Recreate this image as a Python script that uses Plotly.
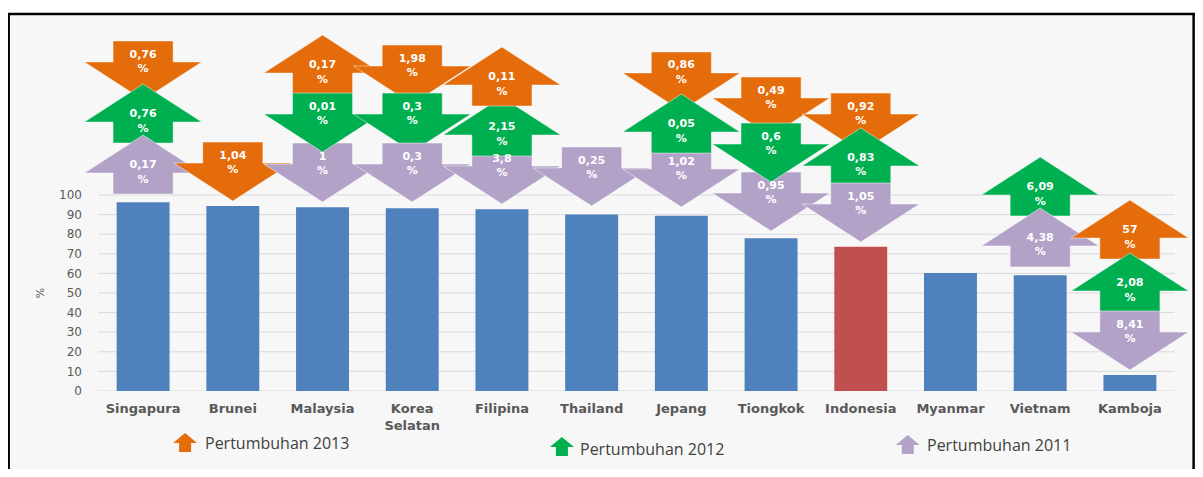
import plotly.graph_objects as go

# ---------------- data ----------------
categories = ["Singapura", "Brunei", "Malaysia", "Korea Selatan", "Filipina", "Thailand",
              "Jepang", "Tiongkok", "Indonesia", "Myanmar", "Vietnam", "Kamboja"]
tick_labels = ["Singapura", "Brunei", "Malaysia", "Korea<br>Selatan", "Filipina", "Thailand",
               "Jepang", "Tiongkok", "Indonesia", "Myanmar", "Vietnam", "Kamboja"]
values = [96.3, 94.4, 93.7, 93.2, 92.7, 90.1, 89.4, 77.9, 73.6, 60.2, 59.0, 8.2]
highlight = "Indonesia"
y_ticks = [0, 10, 20, 30, 40, 50, 60, 70, 80, 90, 100]

series_names = ["2013", "2012", "2011"]
legend_labels = ["Pertumbuhan 2013", "Pertumbuhan 2012", "Pertumbuhan 2011"]

# growth arrows (drawn in this order)
arrow_country = ["Singapura", "Singapura", "Singapura", "Brunei",
                 "Malaysia", "Malaysia", "Malaysia",
                 "Korea Selatan", "Korea Selatan", "Korea Selatan",
                 "Filipina", "Filipina", "Filipina", "Thailand",
                 "Jepang", "Jepang", "Jepang",
                 "Tiongkok", "Tiongkok", "Tiongkok",
                 "Indonesia", "Indonesia", "Indonesia",
                 "Vietnam", "Vietnam",
                 "Kamboja", "Kamboja", "Kamboja"]
arrow_series = ["2013", "2012", "2011", "2013",
                "2013", "2011", "2012",
                "2013", "2012", "2011",
                "2011", "2012", "2013", "2011",
                "2013", "2011", "2012",
                "2013", "2011", "2012",
                "2013", "2012", "2011",
                "2012", "2011",
                "2013", "2012", "2011"]
arrow_label = ["0,76", "0,76", "0,17", "1,04",
               "0,17", "1", "0,01",
               "1,98", "0,3", "0,3",
               "3,8", "2,15", "0,11", "0,25",
               "0,86", "1,02", "0,05",
               "0,49", "0,95", "0,6",
               "0,92", "0,83", "1,05",
               "6,09", "4,38",
               "57", "2,08", "8,41"]
arrow_dir = ["down", "up", "up", "down",
             "up", "down", "down",
             "down", "down", "down",
             "down", "up", "up", "down",
             "down", "down", "up",
             "down", "down", "down",
             "down", "up", "down",
             "up", "up",
             "up", "up", "down"]
# placement: top edge of each arrow, in axis units
arrow_top = [178.6, 156.6, 130.6, 127.0,
             181.6, 126.5, 152.0,
             176.5, 152.0, 126.5,
             125.5, 150.0, 175.5, 124.5,
             173.0, 124.0, 151.5,
             160.2, 111.7, 136.7,
             152.0, 134.2, 106.1,
             119.4, 93.4,
             97.4, 70.4, 40.8]

# ---------------- styles ----------------
COLORS = {"2013": "#E46C0A", "2012": "#00B050", "2011": "#B3A2C7"}
BAR_BLUE = "#4F81BD"
BAR_RED = "#C0504D"
GRID = "#D9D9D9"
SHAFT_HALF = 0.335
HEAD_HALF = 0.655
SHAFT_LEN = 10.7
HEAD_LEN = 19.4
X_RANGE = [-0.67, 11.67]

fig = go.Figure()

fig.add_trace(go.Bar(
    x=list(range(len(categories))), y=values, width=0.59,
    marker=dict(color=[BAR_RED if c == highlight else BAR_BLUE for c in categories],
                line=dict(width=0)),
    hoverinfo="skip", showlegend=False))


def arrow_xy(xc, top, direction):
    if direction == "up":
        base = top - HEAD_LEN
        bottom = top - HEAD_LEN - SHAFT_LEN
        xs = [xc, xc + HEAD_HALF, xc + SHAFT_HALF, xc + SHAFT_HALF,
              xc - SHAFT_HALF, xc - SHAFT_HALF, xc - HEAD_HALF, xc]
        ys = [top, base, base, bottom, bottom, base, base, top]
    else:
        hs = top - SHAFT_LEN
        tip = top - SHAFT_LEN - HEAD_LEN
        xs = [xc - SHAFT_HALF, xc + SHAFT_HALF, xc + SHAFT_HALF, xc + HEAD_HALF,
              xc, xc - HEAD_HALF, xc - SHAFT_HALF, xc - SHAFT_HALF]
        ys = [top, top, hs, hs, tip, hs, hs, top]
    return xs, ys


lab_x, lab_y, lab_t = [], [], []
for c, s, lab, d, top in zip(arrow_country, arrow_series, arrow_label, arrow_dir, arrow_top):
    xc = categories.index(c)
    xs, ys = arrow_xy(xc, top, d)
    fig.add_trace(go.Scatter(
        x=xs, y=ys, mode="lines", fill="toself", fillcolor=COLORS[s],
        line=dict(color="rgba(255,255,255,0.6)", width=0.8),
        hoverinfo="skip", showlegend=False))
    lab_x.append(xc)
    lab_y.append(top - 10.7 if d == "down" else top - 19.2)
    lab_t.append(lab + "<br>%")

fig.add_trace(go.Scatter(
    x=lab_x, y=lab_y, text=lab_t, mode="text", textposition="middle center",
    textfont=dict(family="DejaVu Sans", size=11, color="white", weight="bold"),
    hoverinfo="skip", showlegend=False))

# ---------------- layout (window pixel coords; page body has an 8px margin) ----------------
OFF = 8
FIG_W, FIG_H = 1203 - 2 * OFF, 477 - 2 * OFF
UNIT = 89.75
PL = 143 + (X_RANGE[0]) * UNIT          # plot-area left, window px
PR = 143 + (X_RANGE[1]) * UNIT          # plot-area right, window px
PT, PB = 20, 391                        # plot-area top / bottom, window px


def px(x):
    return (x - PL) / (PR - PL)


def py(y):
    return (PB - y) / (PB - PT)


shapes = [
    dict(type="rect", xref="paper", yref="paper", x0=px(10), x1=px(1194), y0=py(469), y1=py(15),
         fillcolor="#F7F7F7", line=dict(width=0), layer="below"),
    dict(type="line", xref="paper", yref="paper", x0=px(7), x1=px(1196), y0=py(14), y1=py(14),
         line=dict(color="black", width=2.5)),
    dict(type="line", xref="paper", yref="paper", x0=px(8.5), x1=px(8.5), y0=py(13), y1=py(477),
         line=dict(color="black", width=2.5)),
    dict(type="line", xref="paper", yref="paper", x0=px(1194), x1=px(1194), y0=py(13), y1=py(469),
         line=dict(color="black", width=2.5)),
]
for v in y_ticks:
    shapes.append(dict(type="line", xref="x", yref="y", x0=-0.5, x1=len(categories) - 0.5,
                       y0=v, y1=v, line=dict(color=GRID, width=1), layer="below"))

legend_icon_x = [185, 562, 908]
legend_icon_y = [433, 437, 435]
legend_text_x = [203, 578, 925]
legend_text_y = [443, 449, 445]
annotations = []
for s, lab, ix, iy, tx, ty in zip(series_names, legend_labels, legend_icon_x, legend_icon_y,
                                   legend_text_x, legend_text_y):
    pts = [(ix, iy), (ix + 12, iy + 10), (ix + 6, iy + 10), (ix + 6, iy + 19),
           (ix - 6, iy + 19), (ix - 6, iy + 10), (ix - 12, iy + 10)]
    path = "M " + " L ".join(f"{px(a):.5f},{py(b):.5f}" for a, b in pts) + " Z"
    shapes.append(dict(type="path", xref="paper", yref="paper", path=path,
                       fillcolor=COLORS[s], line=dict(width=0)))
    annotations.append(dict(xref="paper", yref="paper", x=px(tx), y=py(ty), text=lab,
                            showarrow=False, xanchor="left", yanchor="middle",
                            font=dict(family="Open Sans", size=16, color="#404040")))

annotations.append(dict(xref="paper", yref="y", x=px(40), y=50, text="%", textangle=-90,
                        showarrow=False, xanchor="center", yanchor="middle",
                        font=dict(family="DejaVu Sans", size=11, color="#595959")))

fig.update_layout(
    width=FIG_W, height=FIG_H,
    margin=dict(l=PL - OFF, r=FIG_W - (PR - OFF), t=PT - OFF, b=FIG_H - (PB - OFF), pad=0),
    paper_bgcolor="white", plot_bgcolor="rgba(0,0,0,0)",
    showlegend=False, shapes=shapes, annotations=annotations,
    xaxis=dict(range=X_RANGE, tickvals=list(range(len(categories))), ticktext=tick_labels,
               showgrid=False, zeroline=False, showline=False,
               ticks="", ticklabelstandoff=8,
               tickfont=dict(family="DejaVu Sans", size=13, color="#595959", weight="bold")),
    yaxis=dict(range=[0, (PB - PT) / 1.96], tickvals=y_ticks,
               showgrid=False, zeroline=False, showline=False,
               ticks="", ticklabelstandoff=0,
               tickfont=dict(family="DejaVu Sans", size=12, color="#595959")),
)

fig.write_html("out.html")
